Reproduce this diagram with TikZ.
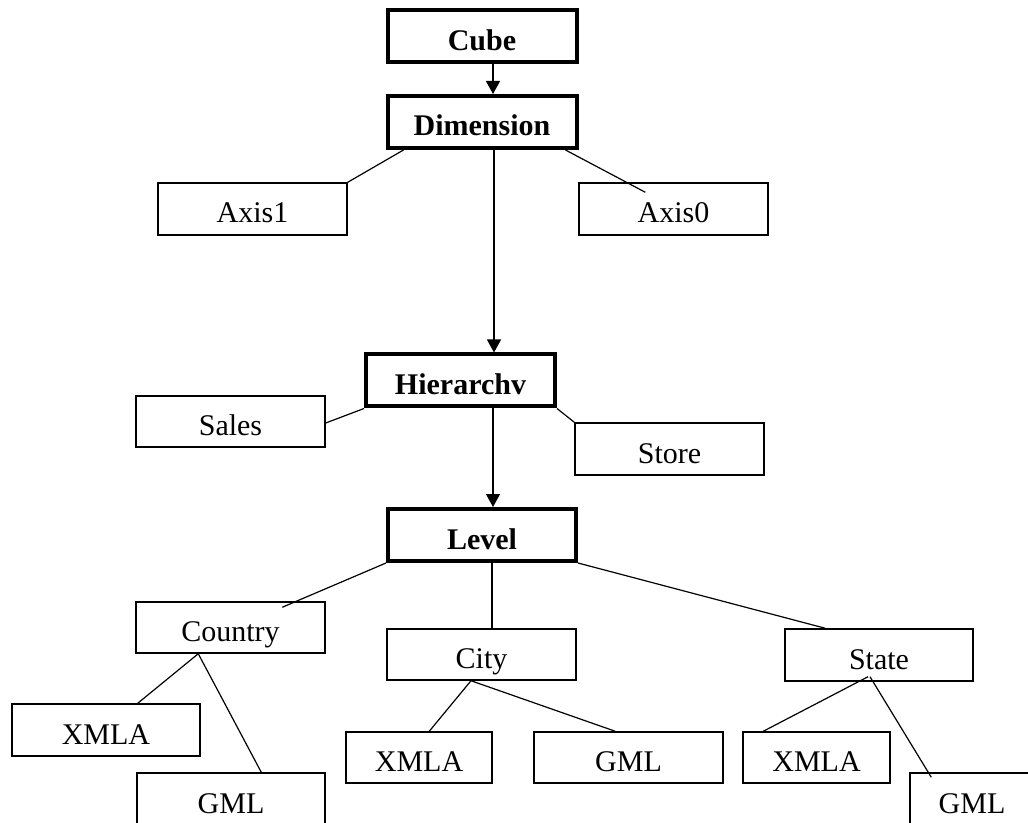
\documentclass[tikz,border=0pt]{standalone}
\usepackage{fontspec}
\setmainfont{Liberation Serif}
\usetikzlibrary{calc,arrows.meta}
\begin{document}
\begin{tikzpicture}[x=0.75pt,y=-0.75pt,
  box/.style={draw,line width=1.1pt,rectangle,inner sep=0pt,
    minimum width=189*0.75pt,minimum height=52*0.75pt,
    font=\fontsize{22.5pt}{27pt}\selectfont,text height=21pt,text depth=0pt},
  mainbox/.style={box,line width=3pt,font=\fontsize{22.5pt}{27pt}\selectfont\bfseries},
  link/.style={line width=0.9pt},
  arr/.style={line width=0.9pt,-{Triangle[width=10.5pt,length=9.75pt]}}]
\useasboundingbox (0,0) rectangle (1028,823);
\clip (0,0) rectangle (1028,823);
% main chain
\node[mainbox] (cube) at (482,36.5) {Cube};
\node[mainbox] (dim) at (482,122) {Dimension};
\node[mainbox] (hier) at (460.5,380.5) {Hierarchv};
\node[mainbox,minimum width=188*0.75pt] (level) at (482,535) {Level};
% dimension children
\node[box] (ax1) at (252.5,209) {Axis1};
\node[box] (ax0) at (673.5,209) {Axis0};
% hierarchy children
\node[box,minimum height=51*0.75pt] (sales) at (230.5,421.5) {Sales};
\node[box] (store) at (669.5,449) {Store};
% level children
\node[box,minimum height=51*0.75pt] (country) at (230.5,627.5) {Country};
\node[box,minimum height=51*0.75pt] (city) at (481.5,654.5) {City};
\node[box,minimum width=188*0.75pt] (state) at (879,655) {State};
% leaves
\node[box,minimum width=188*0.75pt] (cx) at (106,730) {XMLA};
\node[box,minimum width=188*0.75pt] (cg) at (231,799) {GML};
\node[box,minimum width=146*0.75pt,minimum height=51*0.75pt] (tx) at (419,757.5) {XMLA};
\node[box,minimum height=51*0.75pt] (tg) at (628.5,757.5) {GML};
\node[box,minimum width=147*0.75pt,minimum height=51*0.75pt] (sx) at (816.5,757.5) {XMLA};
\node[box,minimum width=124*0.75pt] (sg) at (972,799) {GML};
% spine coordinates
\coordinate (s1) at ($(cube.south)+(11,0)$);
\coordinate (s2) at ($(dim.south)+(12,0)$);
\coordinate (s3) at ($(hier.south)+(32.5,0)$);
\coordinate (s4) at ($(level.south)+(10,0)$);
% connectors
\draw[arr] (s1) -- (s1 |- dim.north);
\draw[link] ($(dim.south west)+(18,0)$) -- (ax1.north east);
\draw[link] ($(dim.south east)+(-13,0)$) -- ($(ax0.north west)+(67,10)$);
\draw[arr] (s2) -- (s2 |- hier.north);
\draw[link] (hier.south west) -- ($(sales.east)+(0,1.5)$);
\draw[link] (hier.south east) -- (store.north west);
\draw[arr] (s3) -- (s3 |- level.north);
\draw[link] (level.south west) -- ($(country.north west)+(147,6)$);
\draw[link] (s4) -- (s4 |- city.north);
\draw[link] (level.south east) -- ($(state.north west)+(41,0)$);
\draw[link] ($(country.south west)+(63,0)$) -- ($(cx.north east)+(-63,0)$);
\draw[link] ($(country.south west)+(63,0)$) -- ($(cg.north west)+(125,0)$);
\draw[link] ($(city.south)+(-10.5,0)$) -- ($(tx.north west)+(84,0)$);
\draw[link] ($(city.south)+(-10.5,0)$) -- ($(tg.north west)+(82,0)$);
\draw[link] ($(state.south)+(-11,-5)$) -- ($(sx.north west)+(21,0)$);
\draw[link] ($(state.south)+(-9,-5)$) -- ($(sg.north west)+(22,5)$);
\end{tikzpicture}
\end{document}
